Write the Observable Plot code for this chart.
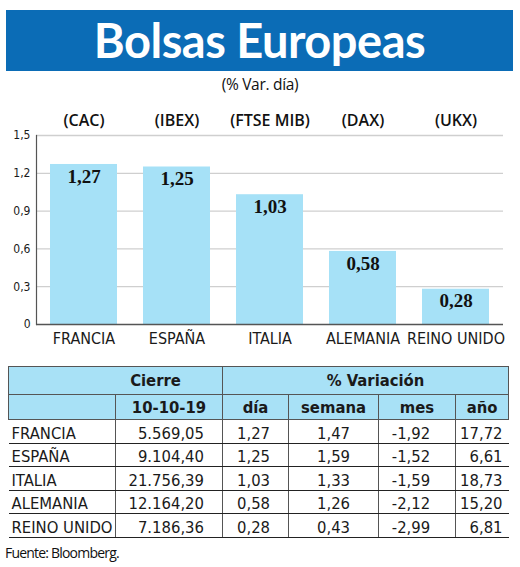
<!DOCTYPE html>
<html>
<head>
<meta charset="utf-8">
<script src="https://cdn.jsdelivr.net/npm/d3@7"></script>
<script src="https://cdn.jsdelivr.net/npm/@observablehq/plot@0.6"></script>
<style>
  html, body { margin: 0; padding: 0; background: #fff; }
  #page { position: relative; width: 520px; height: 567px; overflow: hidden; }
  #title { position: absolute; left: 6px; top: 10px; width: 507px; height: 61px; background: #0b6cb6;
           color: #fff; font-family: Lato, "Open Sans", sans-serif; font-weight: 700; font-size: 47px;
           line-height: 61px; text-align: center; letter-spacing: -0.5px; }
  #subtitle { position: absolute; left: 0; top: 73px; width: 520px; text-align: center;
              font-family: "Open Sans", Lato, sans-serif; font-size: 15.5px; color: #111; letter-spacing: -0.3px; }
  #chart { position: absolute; left: 0; top: 96px; }
  #tbl { position: absolute; left: 8px; top: 366px; border-collapse: collapse; table-layout: fixed; width: 500px;
         font-family: "Liberation Sans Narrow", "DejaVu Sans Condensed", sans-serif; font-size: 16.5px; color: #1a1a1a; }
  #tbl td { padding: 0; white-space: nowrap; }
  #tbl tr.h td { background: #a8e1f6; font-weight: bold; text-align: center; border: 1px solid #555; }
  #tbl tr.h1 td { height: 27px; }
  #tbl tr.h2 td { height: 24px; }
  #tbl tr.d td { height: 22.6px; border-bottom: 1px solid #222; border-left: 1px solid #555; vertical-align: bottom; }
  #tbl tr.d td:first-child { border-left: none; text-align: left; padding-left: 3px; }
  #foot { position: absolute; left: 5px; top: 543px; font-family: "Open Sans", sans-serif; font-size: 14px;
          color: #111; letter-spacing: -0.8px; }
</style>
</head>
<body>
<div id="page">
  <div id="title">Bolsas Europeas</div>
  <div id="subtitle">(% Var. día)</div>
  <div id="chart"></div>
  <table id="tbl"></table>
  <div id="foot">Fuente: Bloomberg.</div>
</div>
<script>
// ---- data ----
const paises = ["FRANCIA", "ESPAÑA", "ITALIA", "ALEMANIA", "REINO UNIDO"];
const indices = ["(CAC)", "(IBEX)", "(FTSE MIB)", "(DAX)", "(UKX)"];
const varDia = [1.27, 1.25, 1.03, 0.58, 0.28];
const cierre = [5569.05, 9104.40, 21756.39, 12164.20, 7186.36];
const varSemana = [1.47, 1.59, 1.33, 1.26, 0.43];
const varMes = [-1.92, -1.52, -1.59, -2.12, -2.99];
const varAno = [17.72, 6.61, 18.73, 15.20, 6.81];
const yTicks = [0, 0.3, 0.6, 0.9, 1.2, 1.5];
const fechaCierre = "10-10-19";

// ---- formatting ----
const es = d3.formatLocale({decimal: ",", thousands: ".", grouping: [3], currency: ["", "€"], minus: "-"});
const fmtCierre = es.format(",.2f");
const fmt2 = es.format(".2f");
const fmtTick = d => String(d).replace(".", ",");

const data = paises.map((p, i) => ({pais: p, indice: indices[i], dia: varDia[i]}));

const condensed = '"Liberation Sans Narrow", "DejaVu Sans Condensed", sans-serif';

const chart = Plot.plot({
  width: 520,
  height: 260,
  marginTop: 39,
  marginBottom: 32,
  marginLeft: 36,
  marginRight: 17,
  style: {background: "transparent", fontFamily: condensed, color: "#1a1a1a"},
  x: {domain: paises, paddingInner: 0.28, paddingOuter: 0.15, label: null},
  y: {domain: [0, 1.5], label: null},
  marks: [
    Plot.ruleY(yTicks.filter(d => d > 0), {stroke: "#cfcfcf", strokeWidth: 1.3}),
    Plot.barY(data, {x: "pais", y: "dia", fill: "#a6e1f7"}),
    Plot.ruleY([0], {stroke: "#555", strokeWidth: 1.6}),
    Plot.frame({anchor: "left", stroke: "#555", strokeWidth: 1.2}),
    Plot.text(data, {x: "pais", y: "dia", text: d => fmt2(d.dia), dy: 12, fontWeight: "bold",
                     fontSize: 19, fontFamily: "Liberation Serif", fill: "#111"}),
    Plot.text(data, {x: "pais", text: "indice", frameAnchor: "top", dy: -21, fontSize: 16,
                     fontFamily: "Open Sans", fontWeight: 600, fill: "#111", letterSpacing: -0.5}),
    Plot.axisX({tickSize: 0, tickPadding: 8, fontSize: 16, label: null}),
    Plot.axisY({ticks: yTicks, tickSize: 0, tickPadding: 6, tickFormat: fmtTick, fontSize: 12, label: null})
  ]
});
document.getElementById("chart").appendChild(chart);

// ---- table ----
const tbl = document.getElementById("tbl");
const widths = [107, 107, 66, 90, 77, 53];
tbl.innerHTML =
  `<colgroup>${widths.map(w => `<col style="width:${w}px">`).join("")}</colgroup>` +
  `<tr class="h h1"><td colspan="2" style="padding-left:80px">Cierre</td><td colspan="4" style="padding-left:20px">% Variación</td></tr>` +
  `<tr class="h h2"><td></td><td>${fechaCierre}</td><td>día</td><td>semana</td><td>mes</td><td>año</td></tr>` +
  paises.map((p, i) =>
    `<tr class="d"><td>${p}</td>` +
    `<td style="text-align:right;padding-right:18px">${fmtCierre(cierre[i])}</td>` +
    `<td style="text-align:center;padding-right:4px">${fmt2(varDia[i])}</td>` +
    `<td style="text-align:center">${fmt2(varSemana[i])}</td>` +
    `<td style="text-align:center;padding-right:12px">${fmt2(varMes[i])}</td>` +
    `<td style="text-align:right;padding-right:6px">${fmt2(varAno[i])}</td></tr>`
  ).join("");
</script>
</body>
</html>
